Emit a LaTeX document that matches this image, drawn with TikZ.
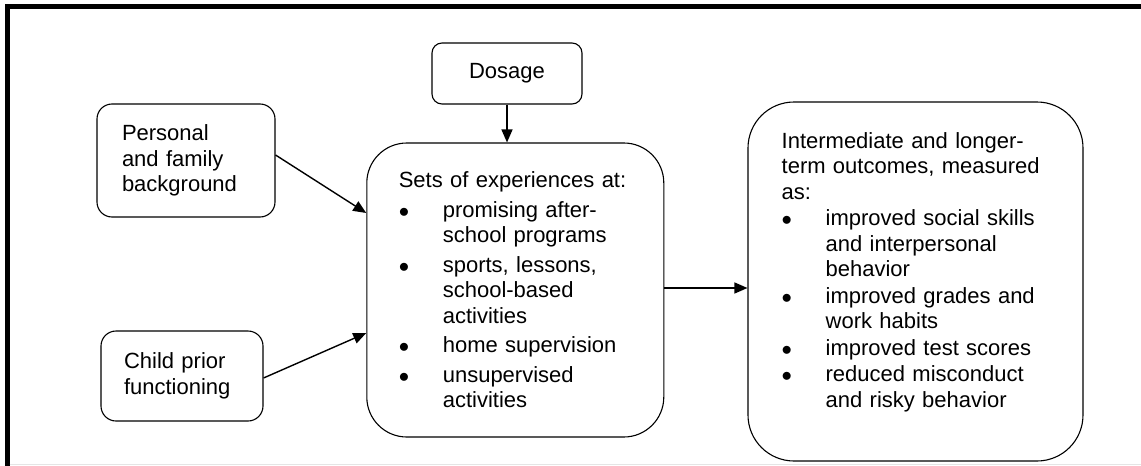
\documentclass[tikz,border=0pt]{standalone}
\usepackage{fontspec}
\setmainfont{Liberation Sans}
\usetikzlibrary{positioning,arrows.meta}
\setlength{\parindent}{0pt}
\setlength{\parskip}{0pt}
\tikzstyle{arrow} = [line width=1.4pt,-{Triangle[length=13pt,width=11pt]}]
\tikzstyle{block} = [draw, line width=1.1pt, rectangle, rounded corners=15pt,
    inner ysep=0pt, font=\fontsize{22}{25.5}\selectfont, align=left]
\tikzstyle{bigblock} = [block, rounded corners=40pt]
\tikzstyle{blocktext} = [inner sep=0pt, font=\fontsize{22}{25.5}\selectfont, align=left]
\tikzstyle{frameline} = [line width=4.8pt]
\newcommand{\bitem}{\makebox[44pt][l]{$\bullet$}}
\newcommand{\bgap}{\hspace*{44pt}}

\begin{document}
\begin{tikzpicture}[x=1pt, y=-1pt]
     \useasboundingbox (0,0) rectangle (1141,466);
     \draw [frameline] (1141,6.5) -| (7.2,466);
     \draw [gray!20, line width=1pt] (9.5,464.5) -- (1141,464.5);

     \node [block, minimum width=178pt, minimum height=113pt, text width=128pt, inner xsep=25pt] (background) at (186,160.5) {Personal\\and family\\background};
     \node [block, minimum width=162pt, minimum height=90pt, text width=116pt, inner xsep=23pt] (child) at (182,376) {Child prior\\functioning};
     \node [block, rounded corners=10pt, minimum width=150pt, minimum height=61pt, align=center] (dosage) at (507,73.5) {Dosage};

     \node [bigblock, minimum width=297pt, minimum height=294pt, text width=233pt, inner xsep=32pt] (exper) at (515.3,290) {Sets of experiences at:\\[4pt]
       \bitem promising after-\\\bgap school programs\\[4pt]
       \bitem sports, lessons,\\\bgap school-based\\\bgap activities\\[4pt]
       \bitem home supervision\\[4pt]
       \bitem unsupervised\\\bgap activities};

     \node [bigblock, rounded corners=46pt, minimum width=335pt, minimum height=359pt] (outcomes) at (915.5,281.5) { };
     \node [blocktext, anchor=north west, text width=267pt] (outcomestext) at ([xshift=34pt,yshift=-30.7pt]outcomes.north west) {Intermediate and longer-\\term outcomes, measured\\as:\\[1pt]
       \bitem improved social skills\\\bgap and interpersonal\\\bgap behavior\\[1pt]
       \bitem improved grades and\\\bgap work habits\\[1pt]
       \bitem improved test scores\\[1pt]
       \bitem reduced misconduct\\\bgap and risky behavior};

     \draw [arrow] ([yshift=5.5pt]background.east) -- ([yshift=77pt]exper.west);
     \draw [arrow] ([yshift=-2pt]child.east) -- ([yshift=-43pt]exper.west);
     \draw [arrow] (dosage.south) -- (dosage.south |- exper.north);
     \coordinate (experout) at ([yshift=2pt]exper.east);
     \draw [arrow] (experout) -- (experout -| outcomes.west);
\end{tikzpicture}
\end{document}
